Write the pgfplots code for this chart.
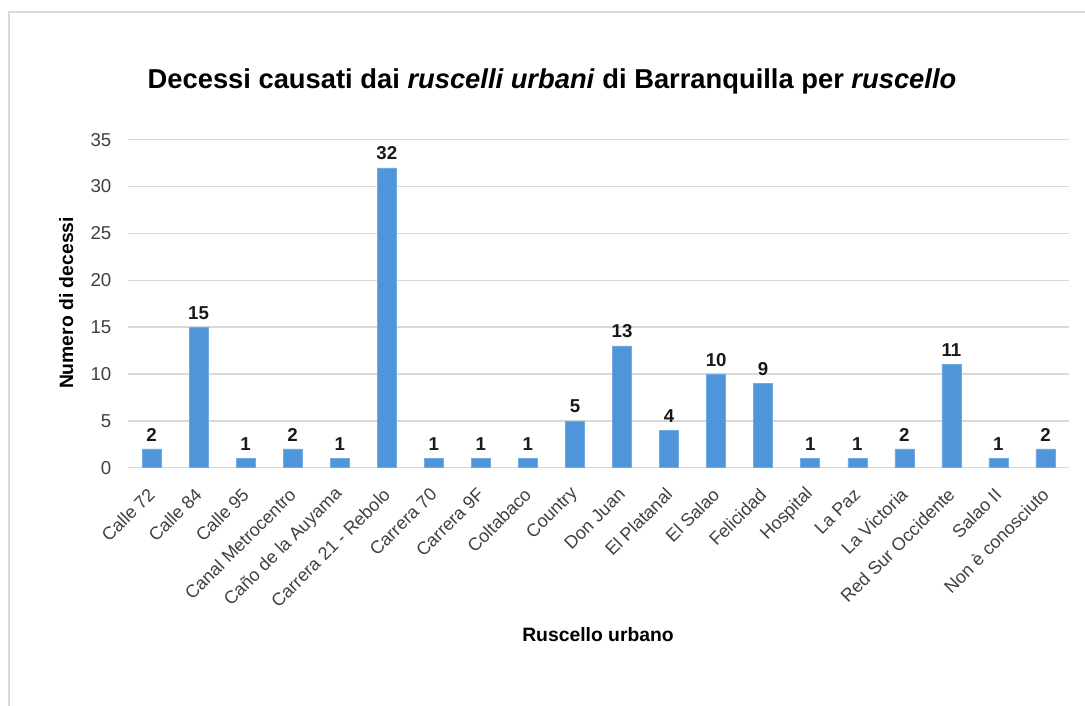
\documentclass[border=0pt]{standalone}
\usepackage{pgfplots}
\pgfplotsset{compat=1.18}
\usepackage{fontspec}
\setmainfont{Liberation Sans}
\definecolor{barblue}{RGB}{79,149,217}
\definecolor{gridgray}{RGB}{217,217,217}
\definecolor{ticktext}{RGB}{64,64,64}
\definecolor{framegray}{RGB}{217,217,217}
\begin{document}
\begin{tikzpicture}
\begin{axis}[
  at={(96pt,-350.775pt)}, anchor=south west,
  scale only axis, width=705.75pt, height=246pt,
  xmin=-0.5, xmax=19.5, ymin=0, ymax=35,
  ytick={0,5,...,35},
  xtick={0,...,19},
  xticklabels={Calle 72, Calle 84, Calle 95, Canal Metrocentro, Caño de la Auyama, Carrera 21 - Rebolo, Carrera 70, Carrera 9F, Coltabaco, Country, Don Juan, El Platanal, El Salao, Felicidad, Hospital, La Paz, La Victoria, Red Sur Occidente, Salao II, Non è conosciuto},
  ybar, bar width=14.25pt,
  axis line style={draw=none},
  major tick length=0pt,
  ymajorgrids, grid style={gridgray, line width=1pt},
  /pgf/number format/assume math mode=true,
  yticklabel style={font=\fontsize{14}{16}\selectfont, text=ticktext, xshift=-9pt},
  xticklabel style={font=\fontsize{13.5}{15}\selectfont, text=ticktext, inner sep=0pt, yshift=-17.7pt, rotate=45, anchor=east},
  nodes near coords,
  nodes near coords style={font=\bfseries\fontsize{14}{16}\selectfont, text=black!90, yshift=2.3pt},
  clip=false,
]
\addplot[fill=barblue, draw=barblue!80!white, line width=0.4pt] coordinates {
(0,2) (1,15) (2,1) (3,2) (4,1) (5,32) (6,1) (7,1) (8,1) (9,5)
(10,13) (11,4) (12,10) (13,9) (14,1) (15,1) (16,2) (17,11) (18,1) (19,2)};
\end{axis}
\begin{scope}[x=0.75pt,y=-0.75pt]
\path[use as bounding box] (0,0) rectangle (1085,706);
\draw[framegray, line width=1.5pt] (9,706) -- (9,12) -- (1085,12);
\node[anchor=base, font=\bfseries\fontsize{20.5}{24}\selectfont, inner sep=0pt] at (552,89)
  {Decessi causati dai \textit{ruscelli urbani} di Barranquilla per \textit{ruscello}};
\node[anchor=base, rotate=90, font=\bfseries\fontsize{14.5}{16}\selectfont, inner sep=0pt] at (73,303) {Numero di decessi};
\node[anchor=base, font=\bfseries\fontsize{14.5}{16}\selectfont, inner sep=0pt] at (598,641) {Ruscello urbano};
\end{scope}
\end{tikzpicture}
\end{document}
